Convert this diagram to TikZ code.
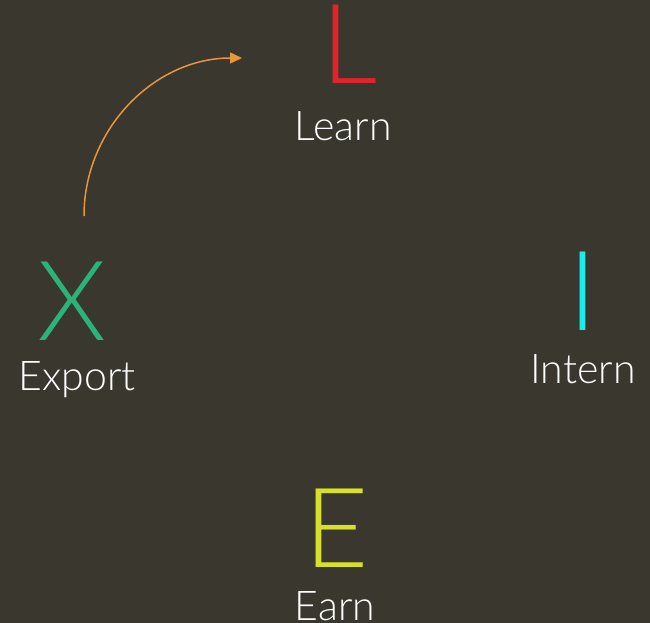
\documentclass[tikz,border=0pt]{standalone}
\usepackage{fontspec}
\newfontfamily\lightf{Lato Light}
\usetikzlibrary{arrows.meta}
\definecolor{bgc}{HTML}{3A372F}
\definecolor{redc}{HTML}{E3232B}
\definecolor{greenc}{HTML}{2BB47A}
\definecolor{cyanc}{HTML}{1CEBEB}
\definecolor{yellowc}{HTML}{D7E02B}
\definecolor{orangec}{HTML}{E8963A}
\tikzset{
  big/.style={anchor=base, inner sep=0pt, font=\lightf\fontsize{111}{111}\selectfont},
  lbl/.style={anchor=base, inner sep=0pt, text=white, font=\lightf\fontsize{41}{41}\selectfont},
}
\begin{document}
\begin{tikzpicture}[x=1pt,y=-1pt]
\fill[bgc] (0,0) rectangle (650,623);
\useasboundingbox (0,0) rectangle (650,623);
\node[big, text=redc] (L) at (350,84) {L};
\node[lbl] (learn) at (343,140) {Learn};
\node[big, text=greenc] (X) at (72,340) {X};
\node[lbl] (export) at (77,390) {Export};
\node[big, text=cyanc] (I) at (583,330) {I};
\node[lbl] (intern) at (583,383) {Intern};
\node[big, text=yellowc] (E) at (337,567) {E};
\node[lbl] (earn) at (335,620) {Earn};
\coordinate (as) at (84,216);
\draw[orangec, line width=1.5pt, -{Triangle[length=12pt,width=11pt]}] (as) arc[start angle=180, end angle=270, radius=158];
\end{tikzpicture}
\end{document}
